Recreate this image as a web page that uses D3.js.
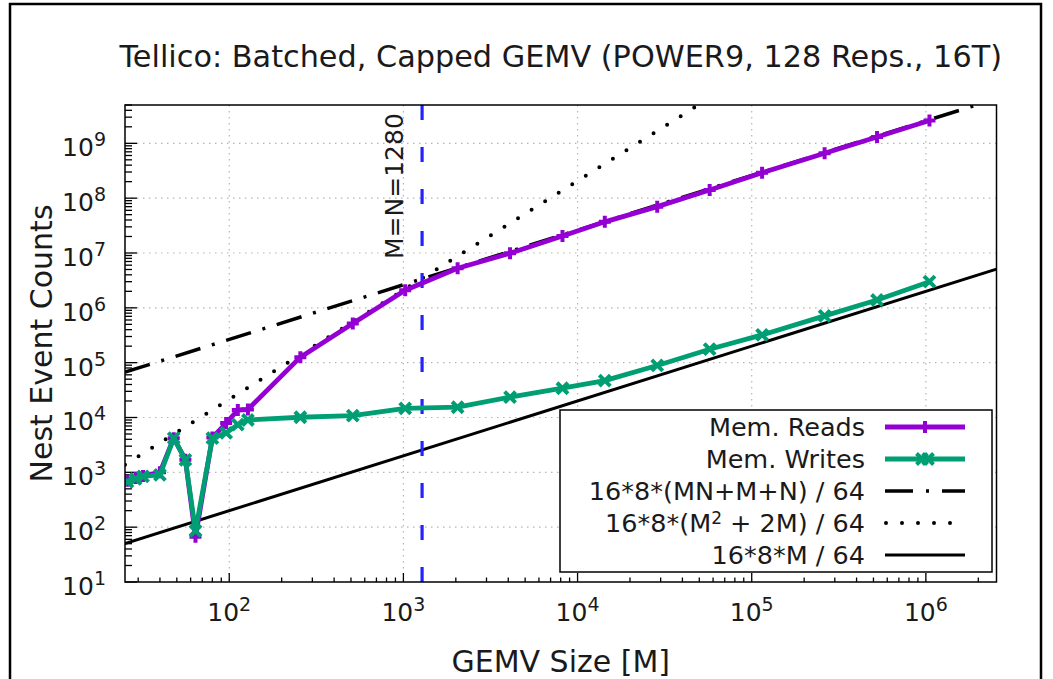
<!DOCTYPE html>
<html>
<head>
<meta charset="utf-8">
<script src="https://cdnjs.cloudflare.com/ajax/libs/d3/7.8.5/d3.min.js"></script>
<style>
    html, body { margin: 0; padding: 0; background: #fff; }
    svg { display: block; font-family: "DejaVu Sans", sans-serif; }
</style>
</head>
<body>
<svg id="chart" width="1053" height="679"></svg>
<script>
// GEMV sizes (M) of the measured points
const sizes = [26, 29, 32, 40, 48, 56, 64, 80, 96, 112, 128, 256, 512, 1024, 2048, 4096,
    8192, 14336, 28672, 57344, 114688, 262144, 524288, 1048576];

// Mem. Reads counts
const reads = [700, 790, 860, 1000, 4200, 1700, 67, 4300, 7900, 13700, 14000, 1.26e5,
    5.2e5, 2.1e6, 5.26e6, 9.9e6, 2.04e7, 3.7e7, 7.0e7, 1.41e8, 2.91e8, 6.6e8, 1.3e9, 2.6e9];

// Mem. Writes counts
const writes = [670, 760, 843, 899, 4200, 1690, 86, 4200, 5240, 7400, 9000, 1.01e4,
    1.08e4, 1.47e4, 1.54e4, 2.35e4, 3.42e4, 4.71e4, 8.9e4, 1.76e5, 3.21e5, 7.12e5, 1.39e6, 3.0e6];

// Reference model lines, end points read at the two edges of the x range
const refEnds = [25.2, 2544000];
const mnLine = [6.71e4, 6.52e9];     // 16*8*(MN+M+N)/64
const sqLine = [1371, 1.29e13];      // 16*8*(M^2+2M)/64
const mLine = [50.4, 5.09e6];        // 16*8*M/64

const capSize = 1280;

const xTicks = [1e2, 1e3, 1e4, 1e5, 1e6];
const yTicks = [1e1, 1e2, 1e3, 1e4, 1e5, 1e6, 1e7, 1e8, 1e9];

const title = "Tellico: Batched, Capped GEMV (POWER9, 128 Reps., 16T)";

// Layout
const plot = { left: 125, right: 996.5, top: 105, bottom: 582 };
const svg = d3.select("#chart");
const textColor = "#1a1a1a";

const x = d3.scaleLog().domain([25.2, 2544000]).range([plot.left, plot.right]);
const y = d3.scaleLog().domain([10, 5e9]).range([plot.bottom, plot.top]);

// Outer frame
svg.append("rect")
    .attr("x", 10).attr("y", 4)
    .attr("width", 1031).attr("height", 700)
    .attr("fill", "none")
    .attr("stroke", "#000")
    .attr("stroke-width", 2.5);

// Clip to the plot area
svg.append("clipPath").attr("id", "plot-clip")
    .append("rect")
    .attr("x", plot.left).attr("y", plot.top)
    .attr("width", plot.right - plot.left)
    .attr("height", plot.bottom - plot.top);

// Grid lines
const grid = svg.append("g").attr("class", "grid");
grid.selectAll(".gx")
    .data(xTicks)
    .enter().append("line")
    .attr("x1", d => x(d)).attr("x2", d => x(d))
    .attr("y1", plot.top).attr("y2", plot.bottom)
    .attr("stroke", "#b5b5b5")
    .attr("stroke-width", 1.2)
    .attr("stroke-dasharray", "1.5 4.5");
grid.selectAll(".gy")
    .data(yTicks.slice(1))
    .enter().append("line")
    .attr("x1", plot.left).attr("x2", plot.right)
    .attr("y1", d => y(d)).attr("y2", d => y(d))
    .attr("stroke", "#b5b5b5")
    .attr("stroke-width", 1.2)
    .attr("stroke-dasharray", "1.5 4.5");

// Minor ticks: 2..9 in every decade
function minorTicks(lo, hi) {
    const out = [];
    for (let e = Math.floor(Math.log10(lo)); e <= Math.ceil(Math.log10(hi)); e++) {
        for (let k = 1; k <= 9; k++) {
            const v = k * Math.pow(10, e);
            if (v >= lo && v <= hi) out.push({ v: v, major: k === 1 });
        }
    }
    return out;
}

const ticks = svg.append("g").attr("class", "ticks")
    .attr("stroke", "#000").attr("stroke-width", 1.3);
minorTicks(25.2, 2544000).forEach(t => {
    ticks.append("line")
        .attr("x1", x(t.v)).attr("x2", x(t.v))
        .attr("y1", plot.bottom).attr("y2", plot.bottom - (t.major ? 9 : 4.5));
});
minorTicks(10, 5e9).forEach(t => {
    ticks.append("line")
        .attr("x1", plot.left).attr("x2", plot.left + (t.major ? 12 : 7))
        .attr("y1", y(t.v)).attr("y2", y(t.v));
});

// Tick labels as 10^n
function powerLabel(sel, d) {
    const e = Math.round(Math.log10(d));
    sel.append("tspan").text("10");
    sel.append("tspan")
        .attr("dy", -10)
        .attr("font-size", 19)
        .text(e);
}

svg.append("g").selectAll("text")
    .data(xTicks)
    .enter().append("text")
    .attr("x", d => x(d))
    .attr("y", 621)
    .attr("text-anchor", "middle")
    .attr("font-size", 25)
    .attr("fill", textColor)
    .each(function(d) { powerLabel(d3.select(this), d); });

svg.append("g").selectAll("text")
    .data(yTicks)
    .enter().append("text")
    .attr("x", 106)
    .attr("y", d => y(d) + 13)
    .attr("text-anchor", "end")
    .attr("font-size", 25)
    .attr("fill", textColor)
    .each(function(d) { powerLabel(d3.select(this), d); });

// Series and reference lines
const lines = svg.append("g").attr("clip-path", "url(#plot-clip)");
const line = d3.line().x(d => x(d[0])).y(d => y(d[1]));

lines.append("path")
    .attr("d", line(refEnds.map((m, i) => [m, mLine[i]])))
    .attr("fill", "none").attr("stroke", "#000").attr("stroke-width", 3);

lines.append("path")
    .attr("d", line(refEnds.map((m, i) => [m, sqLine[i]])))
    .attr("fill", "none").attr("stroke", "#000").attr("stroke-width", 4)
    .attr("stroke-linecap", "round")
    .attr("stroke-dasharray", "0 16");

lines.append("path")
    .attr("d", line(refEnds.map((m, i) => [m, mnLine[i]])))
    .attr("fill", "none").attr("stroke", "#000").attr("stroke-width", 3.5)
    .attr("stroke-dasharray", "26 12 3 12");

// Cap marker at M=N=1280
lines.append("line")
    .attr("x1", x(capSize)).attr("x2", x(capSize))
    .attr("y1", plot.top).attr("y2", plot.bottom)
    .attr("stroke", "#2323ff").attr("stroke-width", 3.2)
    .attr("stroke-dasharray", "15 27");

const purple = "#9400d3";
const green = "#009e73";

function drawSeries(values, color, marker) {
    const pts = sizes.map((m, i) => [m, values[i]]);
    lines.append("path")
        .attr("d", line(pts))
        .attr("fill", "none")
        .attr("stroke", color)
        .attr("stroke-width", 4.8)
        .attr("stroke-linejoin", "round");
    pts.forEach(p => marker(lines, x(p[0]), y(p[1]), color));
}

function plusMarker(g, cx, cy, color) {
    g.append("path")
        .attr("d", `M${cx - 6},${cy}H${cx + 6}M${cx},${cy - 6}V${cy + 6}`)
        .attr("stroke", color).attr("stroke-width", 4);
}

function crossMarker(g, cx, cy, color) {
    const s = 5.5;
    g.append("path")
        .attr("d", `M${cx - s},${cy - s}L${cx + s},${cy + s}M${cx - s},${cy + s}L${cx + s},${cy - s}`)
        .attr("stroke", color).attr("stroke-width", 4);
}

drawSeries(reads, purple, plusMarker);
drawSeries(writes, green, crossMarker);

// Plot border
svg.append("rect")
    .attr("x", plot.left).attr("y", plot.top)
    .attr("width", plot.right - plot.left)
    .attr("height", plot.bottom - plot.top)
    .attr("fill", "none")
    .attr("stroke", "#000")
    .attr("stroke-width", 1.5);

// Rotated cap label
svg.append("text")
    .attr("transform", `translate(403,259) rotate(-90)`)
    .attr("font-size", 25)
    .attr("fill", textColor)
    .text("M=N=1280");

// Legend
const legend = svg.append("g");
legend.append("rect")
    .attr("x", 560).attr("y", 410)
    .attr("width", 432).attr("height", 162)
    .attr("fill", "#fff")
    .attr("stroke", "#000")
    .attr("stroke-width", 1.5);

const legendRows = [
    { label: "Mem. Reads", kind: "reads" },
    { label: "Mem. Writes", kind: "writes" },
    { label: "16*8*(MN+M+N) / 64", kind: "dashdot" },
    { label: "16*8*(M^2 + 2M) / 64", kind: "dots" },
    { label: "16*8*M / 64", kind: "solid" }
];

legendRows.forEach((row, i) => {
    const cy = 427 + i * 32;
    const t = legend.append("text")
        .attr("x", 865).attr("y", cy + 9)
        .attr("text-anchor", "end")
        .attr("font-size", 25.5)
        .attr("fill", textColor);
    if (row.label.includes("^")) {
        const parts = row.label.split("^");
        t.append("tspan").text(parts[0]);
        t.append("tspan").attr("dy", -8).attr("font-size", 17).text(parts[1][0]);
        t.append("tspan").attr("dy", 8).text(parts[1].slice(1));
    } else {
        t.text(row.label);
    }

    const s = legend.append("line")
        .attr("x1", 885).attr("x2", 965)
        .attr("y1", cy).attr("y2", cy)
        .attr("fill", "none");
    if (row.kind === "reads") {
        s.attr("stroke", purple).attr("stroke-width", 4.8);
        plusMarker(legend, 925, cy, purple);
    } else if (row.kind === "writes") {
        s.attr("stroke", green).attr("stroke-width", 4.8);
        crossMarker(legend, 922, cy, green);
        crossMarker(legend, 928, cy, green);
    } else if (row.kind === "dashdot") {
        s.attr("stroke", "#000").attr("stroke-width", 3.5)
            .attr("stroke-dasharray", "28 13 3 13");
    } else if (row.kind === "dots") {
        s.attr("stroke", "#000").attr("stroke-width", 4)
            .attr("stroke-linecap", "round")
            .attr("stroke-dasharray", "0 16")
            .attr("x1", 886).attr("x2", 966);
    } else {
        s.attr("stroke", "#000").attr("stroke-width", 3);
    }
});

// Titles
svg.append("text")
    .attr("x", (plot.left + plot.right) / 2)
    .attr("y", 67)
    .attr("text-anchor", "middle")
    .attr("font-size", 30.3)
    .attr("fill", textColor)
    .text(title);

svg.append("text")
    .attr("x", (plot.left + plot.right) / 2)
    .attr("y", 672)
    .attr("text-anchor", "middle")
    .attr("font-size", 30)
    .attr("fill", textColor)
    .text("GEMV Size [M]");

svg.append("text")
    .attr("transform", `translate(52,${(plot.top + plot.bottom) / 2}) rotate(-90)`)
    .attr("text-anchor", "middle")
    .attr("font-size", 30)
    .attr("fill", textColor)
    .text("Nest Event Counts");
</script>
</body>
</html>
